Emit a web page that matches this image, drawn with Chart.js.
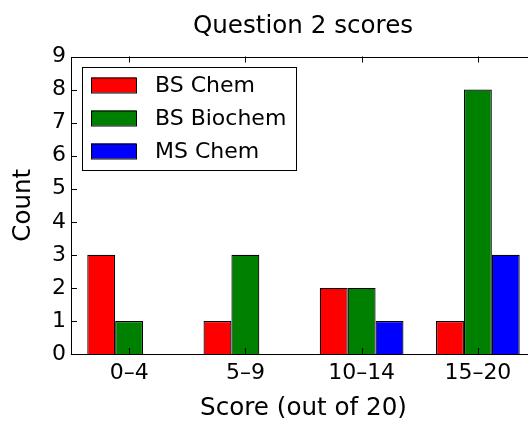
<!DOCTYPE html>
<html>
<head>
<meta charset="utf-8">
<script src="https://cdn.jsdelivr.net/npm/chart.js@4.4.1/dist/chart.umd.min.js"></script>
<style>
  html, body { margin: 0; padding: 0; background: #fff; overflow: hidden; }
</style>
</head>
<body>
<canvas id="chart" width="606" height="421"></canvas>
<script>
// Chart data
const categories = ['0–4', '5–9', '10–14', '15–20'];
const bsChem = [3, 1, 2, 1];
const bsBiochem = [1, 3, 2, 8];
const msChem = [0, 0, 1, 3];
const yMax = 9;

const FONT = "'DejaVu Sans', 'Liberation Sans', sans-serif";

// Frame, inward ticks and the legend box inside the plot
const framePlugin = {
    id: 'framePlugin',
    afterDraw(chart) {
        const ctx = chart.ctx;
        const a = chart.chartArea;
        const x = chart.scales.x;
        const y = chart.scales.y;
        ctx.save();
        ctx.strokeStyle = '#000';
        ctx.lineWidth = 1;
        ctx.strokeRect(Math.round(a.left) + 0.5, Math.round(a.top) + 0.5,
            Math.round(a.right - a.left), Math.round(a.bottom - a.top));

        ctx.beginPath();
        x.ticks.forEach((t, i) => {
            const px = Math.round(x.getPixelForTick(i)) + 0.5;
            ctx.moveTo(px, a.bottom); ctx.lineTo(px, a.bottom - 6);
            ctx.moveTo(px, a.top); ctx.lineTo(px, a.top + 6);
        });
        y.ticks.forEach((t, i) => {
            const py = Math.round(y.getPixelForTick(i)) + 0.5;
            ctx.moveTo(a.left, py); ctx.lineTo(a.left + 6, py);
            ctx.moveTo(a.right, py); ctx.lineTo(a.right - 6, py);
        });
        ctx.stroke();

        // legend
        const lx = 82, ly = 67, lw = 214, lh = 103;
        ctx.fillStyle = '#fff';
        ctx.fillRect(lx, ly, lw, lh);
        ctx.strokeRect(lx + 0.5, ly + 0.5, lw, lh);
        ctx.font = '22px ' + FONT;
        ctx.textBaseline = 'middle';
        chart.data.datasets.forEach((ds, i) => {
            const cy = 85 + i * 33;
            ctx.fillStyle = ds.backgroundColor;
            ctx.fillRect(91, cy - 7.5, 45, 15);
            ctx.strokeRect(91.5, cy - 7, 45, 15);
            ctx.fillStyle = '#000';
            ctx.fillText(ds.label, 155, cy + 1);
        });
        ctx.restore();
    }
};

const ctx = document.getElementById('chart').getContext('2d');
const chart = new Chart(ctx, {
    type: 'bar',
    data: {
        labels: categories,
        datasets: [
            { label: 'BS Chem', data: bsChem, backgroundColor: '#ff0000' },
            { label: 'BS Biochem', data: bsBiochem, backgroundColor: '#008000' },
            { label: 'MS Chem', data: msChem, backgroundColor: '#0000ff' }
        ]
    },
    options: {
        responsive: false,
        animation: false,
        devicePixelRatio: 1,
        layout: { padding: 0 },
        datasets: {
            bar: {
                borderColor: '#000',
                borderWidth: 1.2,
                categoryPercentage: 0.72,
                barPercentage: 1.0
            }
        },
        plugins: {
            legend: { display: false },
            tooltip: { enabled: false },
            title: {
                display: true,
                text: 'Question 2 scores',
                color: '#000',
                font: { family: FONT, size: 24.6, weight: 'normal' },
                padding: { top: 12, bottom: 15 }
            }
        },
        scales: {
            x: {
                grid: { display: false, drawTicks: false },
                border: { display: false },
                ticks: {
                    color: '#000',
                    font: { family: FONT, size: 22 },
                    padding: 6
                },
                title: {
                    display: true,
                    text: 'Score (out of 20)',
                    color: '#000',
                    font: { family: FONT, size: 24.6 },
                    padding: { top: 0, bottom: -2 }
                },
                afterFit(s) { s.height = 67; }
            },
            y: {
                min: 0,
                max: yMax,
                grid: { display: false, drawTicks: false },
                border: { display: false },
                ticks: {
                    stepSize: 1,
                    color: '#000',
                    font: { family: FONT, size: 22 },
                    padding: 5
                },
                title: {
                    display: true,
                    text: 'Count',
                    color: '#000',
                    font: { family: FONT, size: 24.6 },
                    padding: { top: 9, bottom: 0 }
                },
                afterFit(s) { s.width = 71; }
            },
            y2: {
                position: 'right',
                display: true,
                grid: { display: false, drawTicks: false },
                border: { display: false },
                ticks: { display: false },
                afterFit(s) { s.width = 70; }
            }
        }
    },
    plugins: [framePlugin]
});
</script>
</body>
</html>
